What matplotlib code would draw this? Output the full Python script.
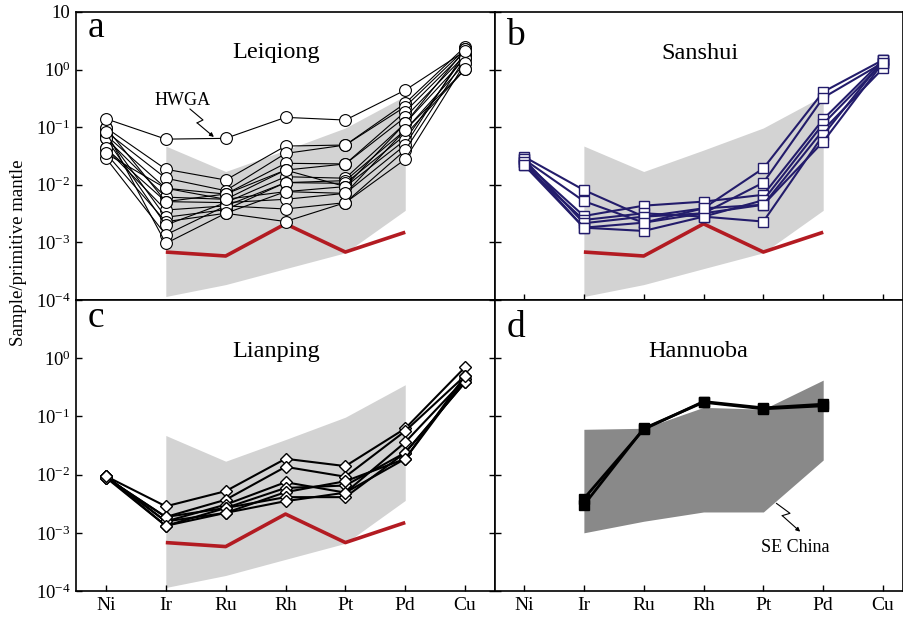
import numpy as np
import matplotlib
matplotlib.use('Agg')
import matplotlib.pyplot as plt
from matplotlib.ticker import FixedLocator, FixedFormatter, NullLocator

plt.rcParams['font.family'] = 'Liberation Serif'
plt.rcParams['mathtext.fontset'] = 'custom'
plt.rcParams['mathtext.rm'] = 'Liberation Serif'
plt.rcParams['mathtext.it'] = 'Liberation Serif:italic'
plt.rcParams['mathtext.bf'] = 'Liberation Serif:bold'

elements = ['Ni', 'Ir', 'Ru', 'Rh', 'Pt', 'Pd', 'Cu']
field_elements = ['Ir', 'Ru', 'Rh', 'Pt', 'Pd']

# SE China field (light grey) and the red reference line, Ir..Pd
se_upper = [0.047, 0.017, 0.040, 0.097, 0.35]
se_lower = [1.15e-4, 1.85e-4, 3.5e-4, 6.6e-4, 3.6e-3]
red_line = [6.8e-4, 5.8e-4, 2.1e-3, 6.8e-4, 1.5e-3]

# Hannuoba field (dark grey), Ir..Pd
hn_upper = [0.060, 0.0625, 0.143, 0.133, 0.42]
hn_lower = [1.0e-3, 1.58e-3, 2.28e-3, 2.28e-3, 0.0178]

# Leiqiong, Ni..Cu
hwga = [0.14, 0.062, 0.064, 0.148, 0.133, 0.44, 2.1]
leiqiong = [
    [0.098, 0.0186, 0.0121, 0.047, 0.049, 0.26, 2.5],
    [0.084, 0.013, 0.0079, 0.035, 0.049, 0.227, 2.25],
    [0.073, 0.0087, 0.0069, 0.0236, 0.023, 0.186, 2.05],
    [0.064, 0.0061, 0.0056, 0.018, 0.023, 0.149, 1.79],
    [0.098, 0.0051, 0.0049, 0.0138, 0.013, 0.117, 1.57],
    [0.043, 0.00365, 0.0043, 0.0109, 0.0118, 0.089, 1.29],
    [0.073, 0.00273, 0.0037, 0.0109, 0.0106, 0.073, 1.01],
    [0.035, 0.00229, 0.0032, 0.0076, 0.0093, 0.060, 1.79],
    [0.064, 0.0020, 0.0049, 0.0056, 0.0071, 0.049, 2.05],
    [0.029, 0.00135, 0.0043, 0.0038, 0.0049, 0.040, 1.57],
    [0.084, 0.00096, 0.0032, 0.0023, 0.0049, 0.0277, 1.29],
    [0.043, 0.0051, 0.0069, 0.018, 0.0093, 0.117, 2.25],
    [0.035, 0.0087, 0.0056, 0.0076, 0.0071, 0.089, 1.01],
]

# Sanshui, Ni..Cu
sanshui = [
    [0.0307, 0.0081, 0.0028, 0.0039, 0.0193, 0.41, 1.47],
    [0.0277, 0.0052, 0.0022, 0.0032, 0.0109, 0.325, 1.32],
    [0.0251, 0.00287, 0.00434, 0.0051, 0.0067, 0.137, 1.47],
    [0.022, 0.00245, 0.0032, 0.0028, 0.0054, 0.114, 1.32],
    [0.0277, 0.00215, 0.0028, 0.0032, 0.0045, 0.089, 1.05],
    [0.0251, 0.0018, 0.00158, 0.0028, 0.0023, 0.073, 1.47],
    [0.022, 0.0018, 0.0022, 0.0039, 0.0045, 0.056, 1.32],
]

# Lianping, Ni..Cu
lianping = [
    [0.0094, 0.00285, 0.0052, 0.0187, 0.014, 0.062, 0.70],
    [0.0089, 0.00187, 0.0037, 0.0136, 0.0092, 0.056, 0.50],
    [0.0094, 0.00157, 0.00305, 0.0074, 0.0049, 0.036, 0.44],
    [0.0089, 0.00132, 0.00267, 0.0059, 0.0065, 0.0238, 0.385],
    [0.0094, 0.00157, 0.0022, 0.0050, 0.0077, 0.0187, 0.44],
    [0.0089, 0.00187, 0.00267, 0.0041, 0.0041, 0.0238, 0.385],
    [0.0094, 0.00132, 0.0022, 0.0035, 0.0049, 0.0187, 0.50],
]

# Hannuoba, Ir..Pd
hannuoba = [
    [0.00386, 0.060, 0.180, 0.140, 0.162],
    [0.0030, 0.062, 0.175, 0.135, 0.152],
]

x_all = np.arange(len(elements))
x_field = np.array([elements.index(e) for e in field_elements])

fig = plt.figure(figsize=(9.04, 6.17), dpi=100)
ax_a = fig.add_axes([0.0841, 0.5138, 0.4635, 0.4668])
ax_b = fig.add_axes([0.5476, 0.5138, 0.4513, 0.4668])
ax_c = fig.add_axes([0.0841, 0.0421, 0.4635, 0.4717])
ax_d = fig.add_axes([0.5476, 0.0421, 0.4513, 0.4717])

ytick_vals = [1e-4, 1e-3, 1e-2, 1e-1, 1e0, 1e1]
ytick_labs = ['$10^{-4}$', '$10^{-3}$', '$10^{-2}$', '$10^{-1}$', '$10^{0}$', '10']

for ax in [ax_a, ax_b, ax_c, ax_d]:
    ax.set_yscale('log')
    ax.set_ylim(1e-4, 10)
    ax.yaxis.set_major_locator(FixedLocator(ytick_vals))
    ax.yaxis.set_minor_locator(NullLocator())
    ax.set_xticks(x_all)
    ax.tick_params(direction='in', length=4, width=1, left=True, right=True,
                   top=False, bottom=True, labelsize=13, pad=4)
    for s in ax.spines.values():
        s.set_linewidth(1.2)
    ax.set_yticklabels([])
    ax.set_xticklabels([])

ax_a.set_xlim(-0.5, 6.5)
ax_c.set_xlim(-0.5, 6.5)
ax_b.set_xlim(-0.485, 6.334)
ax_d.set_xlim(-0.485, 6.334)
ax_a.tick_params(bottom=False)
ax_b.tick_params(right=False)
ax_d.tick_params(right=False)

ax_a.yaxis.set_major_formatter(FixedFormatter(ytick_labs))
ax_c.yaxis.set_major_formatter(FixedFormatter(ytick_labs[:-1] + ['']))
ax_a.tick_params(labelleft=True, labelsize=13.5)
ax_c.tick_params(labelleft=True, labelsize=13.5)
for ax in [ax_c, ax_d]:
    ax.set_xticklabels(elements, fontsize=14)

red = '#b31b22'
light = '#d3d3d3'
navy = '#231c6b'

for ax in [ax_a, ax_b, ax_c]:
    ax.fill_between(x_field, se_lower, se_upper, color=light, lw=0, zorder=1)
    ax.plot(x_field, red_line, color=red, lw=2.6, zorder=2, solid_capstyle='butt')

# a: Leiqiong
for s in leiqiong:
    ax_a.plot(x_all, s, '-o', color='black', lw=0.8, mfc='white', mec='black',
              mew=0.8, ms=8.5, zorder=3)
ax_a.plot(x_all, hwga, '-o', color='black', lw=0.8, mfc='white', mec='black',
          mew=0.8, ms=8.5, zorder=3)
ax_a.text(0.255, 0.694, 'HWGA', transform=ax_a.transAxes, ha='center',
          va='center', fontsize=13)
ax_a.plot([0.272, 0.303, 0.289], [0.663, 0.625, 0.615], color='black', lw=0.8,
          transform=ax_a.transAxes, zorder=4)
ax_a.annotate('', xy=(0.329, 0.566), xytext=(0.289, 0.615),
              xycoords='axes fraction', textcoords='axes fraction',
              arrowprops=dict(arrowstyle='-|>', color='black', lw=0.8,
                              mutation_scale=6, shrinkA=0, shrinkB=0))

# b: Sanshui
for s in sanshui:
    ax_b.plot(x_all, s, '-s', color=navy, lw=1.5, mfc='white', mec=navy,
              mew=1.0, ms=7.5, zorder=3)

# c: Lianping
for s in lianping:
    ax_c.plot(x_all, s, '-D', color='black', lw=1.5, mfc='white', mec='black',
              mew=1.0, ms=6.5, zorder=3)

# d: Hannuoba
ax_d.fill_between(x_field, hn_lower, hn_upper, color='#898989', lw=0, zorder=1)
for s in hannuoba:
    ax_d.plot(x_field, s, '-s', color='black', lw=2.0, mfc='black', mec='black',
              ms=6.5, zorder=3)
ax_d.text(0.7365, 0.151, 'SE China', transform=ax_d.transAxes, ha='center',
          va='center', fontsize=13)
ax_d.plot([0.690, 0.723, 0.704], [0.301, 0.267, 0.259], color='black', lw=0.8,
          transform=ax_d.transAxes, zorder=4)
ax_d.annotate('', xy=(0.748, 0.204), xytext=(0.704, 0.259),
              xycoords='axes fraction', textcoords='axes fraction',
              arrowprops=dict(arrowstyle='-|>', color='black', lw=0.8,
                              mutation_scale=6, shrinkA=0, shrinkB=0))

# panel letters and titles
for ax, letter, ly, title, tx, ty in [
        (ax_a, 'a', 0.914, 'Leiqiong', 0.477, 0.858),
        (ax_b, 'b', 0.885, 'Sanshui', 0.502, 0.857),
        (ax_c, 'c', 0.907, 'Lianping', 0.477, 0.822),
        (ax_d, 'd', 0.873, 'Hannuoba', 0.498, 0.822)]:
    ax.text(0.028, ly, letter, transform=ax.transAxes, fontsize=27,
            ha='left', va='baseline')
    ax.text(tx, ty, title, transform=ax.transAxes, fontsize=17.5,
            ha='center', va='center')

fig.text(0.02, 0.59, 'Sample/primitive mantle', rotation=90, ha='center',
         va='center', fontsize=13.5)

fig.savefig('out.png', dpi=100)
